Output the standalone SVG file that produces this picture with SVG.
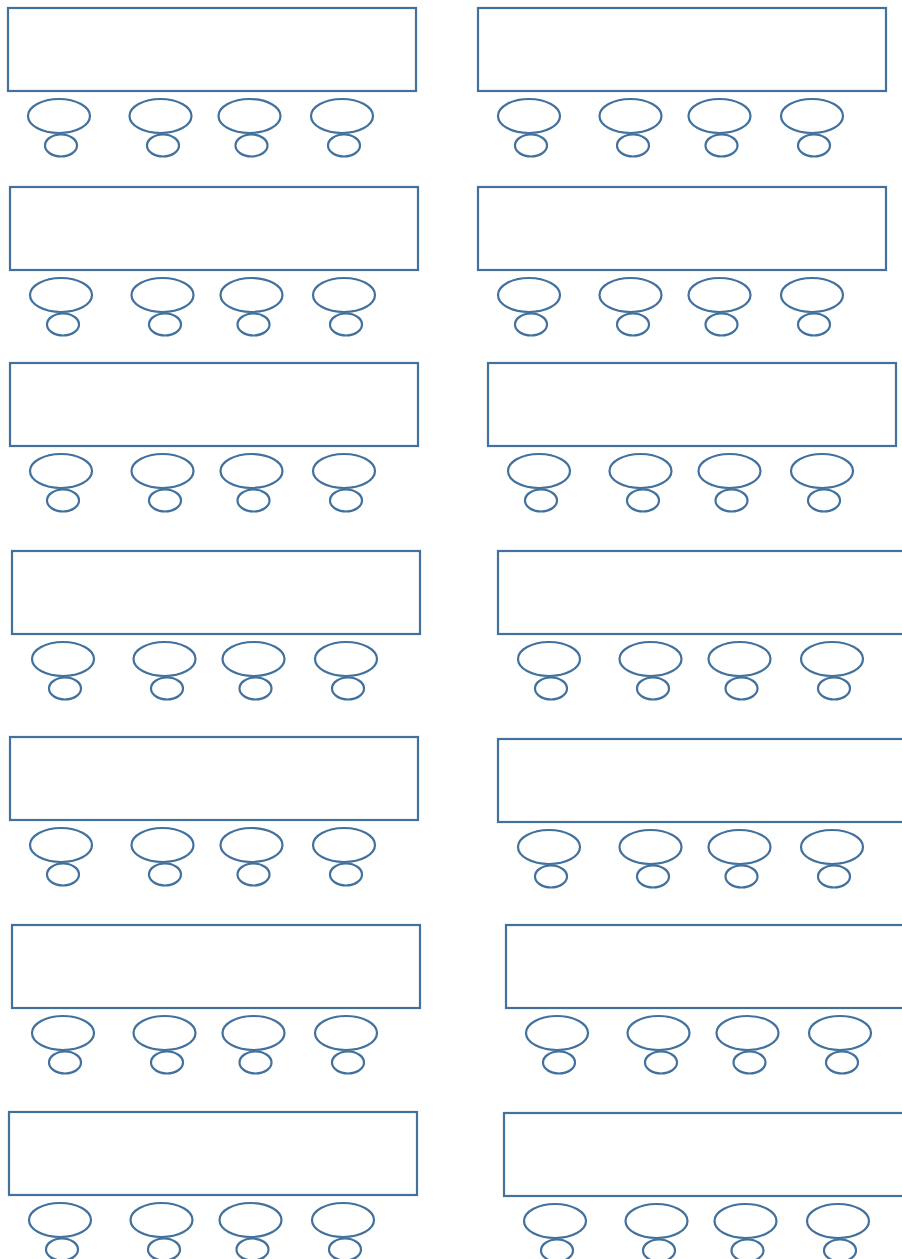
<svg xmlns="http://www.w3.org/2000/svg" xmlns:xlink="http://www.w3.org/1999/xlink" width="902" height="1259" viewBox="0 0 902 1259">
<style>
.d{fill:#fff;stroke:#41719C;stroke-width:2.2}
.s{fill:none;stroke:#41719C;stroke-width:2.2}
</style>
<defs>
<g id="desk">
<rect class="d" x="0" y="0" width="408" height="83"/>
<ellipse class="s" cx="51" cy="108" rx="31" ry="17"/>
<ellipse class="s" cx="152.5" cy="108" rx="31" ry="17"/>
<ellipse class="s" cx="241.5" cy="108" rx="31" ry="17"/>
<ellipse class="s" cx="334" cy="108" rx="31" ry="17"/>
<ellipse class="s" cx="53" cy="137.5" rx="16" ry="11"/>
<ellipse class="s" cx="155" cy="137.5" rx="16" ry="11"/>
<ellipse class="s" cx="243.5" cy="137.5" rx="16" ry="11"/>
<ellipse class="s" cx="336" cy="137.5" rx="16" ry="11"/>
</g>
</defs>
<rect width="902" height="1259" fill="#fff"/>
<g id="desk-L1" transform="translate(8,8)"><use href="#desk" xlink:href="#desk"/></g>
<g id="desk-R1" transform="translate(478,8)"><use href="#desk" xlink:href="#desk"/></g>
<g id="desk-L2" transform="translate(10,187)"><use href="#desk" xlink:href="#desk"/></g>
<g id="desk-R2" transform="translate(478,187)"><use href="#desk" xlink:href="#desk"/></g>
<g id="desk-L3" transform="translate(10,363)"><use href="#desk" xlink:href="#desk"/></g>
<g id="desk-R3" transform="translate(488,363)"><use href="#desk" xlink:href="#desk"/></g>
<g id="desk-L4" transform="translate(12,551)"><use href="#desk" xlink:href="#desk"/></g>
<g id="desk-R4" transform="translate(498,551)"><use href="#desk" xlink:href="#desk"/></g>
<g id="desk-L5" transform="translate(10,737)"><use href="#desk" xlink:href="#desk"/></g>
<g id="desk-R5" transform="translate(498,739)"><use href="#desk" xlink:href="#desk"/></g>
<g id="desk-L6" transform="translate(12,925)"><use href="#desk" xlink:href="#desk"/></g>
<g id="desk-R6" transform="translate(506,925)"><use href="#desk" xlink:href="#desk"/></g>
<g id="desk-L7" transform="translate(9,1112)"><use href="#desk" xlink:href="#desk"/></g>
<g id="desk-R7" transform="translate(504,1113)"><use href="#desk" xlink:href="#desk"/></g>
<g id="connectors"></g>
</svg>
